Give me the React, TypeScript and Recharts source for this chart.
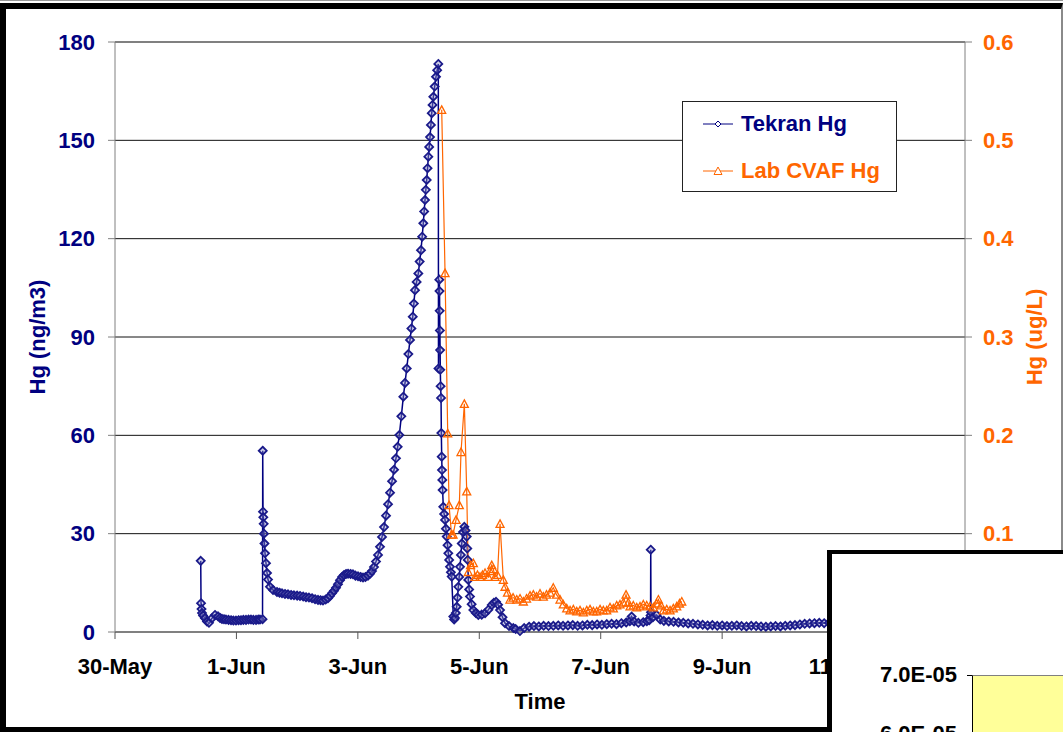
import React from 'react';
import { LineChart, Line, XAxis, YAxis, CartesianGrid, ReferenceLine } from 'recharts';

const FONT = '"Liberation Sans", Arial, sans-serif';
const NAVY = '#000080';
const ORANGE = '#FF6600';

// x axis: days counted from 30-May 00:00 (axis runs to 13-Jun, under the other window)
const dateTicks = [0, 2, 4, 6, 8, 10, 12];
const dateLabels = ['30-May', '1-Jun', '3-Jun', '5-Jun', '7-Jun', '9-Jun', '11-Jun'];
const leftTicks = [0, 30, 60, 90, 120, 150, 180];
const rightTicks = [0, 0.1, 0.2, 0.3, 0.4, 0.5, 0.6];
const overlayTicks = ['7.0E-05', '6.0E-05'];

const tekranDay = [
  1.412, 1.417, 1.425, 1.433, 1.450, 1.482, 1.515, 1.548, 1.598, 1.647, 1.697, 1.730, 1.762, 1.795, 1.828,
  1.870, 1.911, 1.950, 1.993, 2.035, 2.075, 2.115, 2.158, 2.200, 2.240, 2.280, 2.323, 2.360, 2.388, 2.430,
  2.433, 2.438, 2.443, 2.449, 2.454, 2.462, 2.471, 2.487, 2.504, 2.520, 2.553, 2.603, 2.668, 2.710, 2.751,
  2.800, 2.850, 2.900, 2.948, 3.000, 3.047, 3.100, 3.146, 3.195, 3.245, 3.295, 3.344, 3.385, 3.426, 3.470,
  3.508, 3.540, 3.574, 3.607, 3.640, 3.673, 3.706, 3.740, 3.772, 3.805, 3.838, 3.880, 3.920, 3.960, 4.003,
  4.045, 4.085, 4.125, 4.167, 4.200, 4.233, 4.266, 4.299, 4.332, 4.365, 4.398, 4.431, 4.464, 4.497, 4.530,
  4.563, 4.596, 4.628, 4.656, 4.683, 4.716, 4.749, 4.777, 4.805, 4.832, 4.859, 4.882, 4.904, 4.923, 4.941,
  4.968, 4.996, 5.018, 5.040, 5.059, 5.078, 5.092, 5.106, 5.120, 5.134, 5.148, 5.161, 5.175, 5.189, 5.203,
  5.217, 5.230, 5.243, 5.265, 5.287, 5.306, 5.325,
  5.328, 5.342, 5.345, 5.348, 5.351, 5.355, 5.358, 5.363, 5.370, 5.375, 5.381, 5.386, 5.391, 5.396, 5.407,
  5.421, 5.436, 5.450, 5.464, 5.477, 5.490, 5.504, 5.518, 5.532, 5.546, 5.572, 5.586, 5.600, 5.614, 5.628,
  5.641, 5.655, 5.669, 5.683, 5.697, 5.711, 5.732, 5.754, 5.774, 5.793, 5.802, 5.810, 5.819, 5.833, 5.847,
  5.874, 5.902, 5.943, 5.984, 6.040, 6.095, 6.150, 6.205, 6.240, 6.276, 6.310, 6.342, 6.383, 6.424, 6.490,
  6.561, 6.600, 6.670, 6.740, 6.820, 6.900, 6.980, 7.060, 7.140, 7.220, 7.300, 7.380, 7.460, 7.540, 7.620,
  7.700, 7.780, 7.860, 7.940, 8.020, 8.100, 8.180, 8.260, 8.340, 8.420, 8.480, 8.510, 8.550, 8.620, 8.700,
  8.760, 8.800, 8.821, 8.824, 8.828, 8.860, 8.920, 8.980, 9.040, 9.120, 9.200, 9.280, 9.360, 9.440, 9.520,
  9.600, 9.680, 9.760, 9.840, 9.920, 10.000, 10.080, 10.160, 10.240, 10.320, 10.400, 10.480, 10.560, 10.640,
  10.720, 10.800, 10.880, 10.960, 11.040, 11.120, 11.200, 11.280, 11.360, 11.440, 11.520, 11.600, 11.680,
  11.760, 11.840, 11.920, 12.000,
];
const tekranHg = [
  21.7, 8.8, 7.0, 5.8, 5.0, 4.2, 3.2, 2.8, 4.2, 5.2, 4.8, 4.3, 4.0, 3.9, 3.8,
  3.7, 3.6, 3.5, 3.5, 3.6, 3.6, 3.7, 3.7, 3.8, 3.8, 3.7, 3.7, 3.8, 3.8, 3.9,
  55.3, 36.7, 35.0, 33.0, 30.0, 27.0, 24.0, 21.0, 18.0, 16.0, 13.8, 12.8, 12.2, 12.0, 11.8,
  11.6, 11.5, 11.3, 11.2, 11.1, 11.0, 10.8, 10.6, 10.5, 10.3, 10.0, 9.8, 9.7, 9.6, 9.9,
  10.3, 11.0, 11.8, 12.6, 13.5, 14.6, 15.8, 16.8, 17.4, 17.7, 17.8, 17.7, 17.6, 17.2, 17.0,
  16.8, 16.6, 16.8, 17.2, 17.8, 18.6, 19.8, 21.5, 23.5, 26.0, 29.0, 32.0, 35.5, 39.0, 42.5,
  46.0, 49.5, 53.0, 56.5, 60.1, 65.8, 71.8, 76.0, 80.4, 84.8, 89.1, 92.6, 96.2, 100.2, 104.3,
  106.8, 109.4, 113.0, 116.5, 120.6, 124.7, 128.3, 131.8, 134.9, 137.9, 141.5, 145.0, 148.0, 151.0, 154.7,
  158.3, 160.8, 163.3, 166.4, 169.4, 171.4, 173.3,
  80.4, 107.5, 104.0, 98.0, 92.0, 86.0, 80.0, 75.0, 71.4, 60.7, 53.5, 49.4, 46.4, 43.3, 38.2,
  36.0, 34.2, 31.5, 29.1, 26.5, 24.0, 22.0, 19.9, 18.2, 16.9, 4.7, 3.8, 4.3, 5.8, 7.7,
  10.5, 13.8, 16.8, 19.9, 23.5, 27.0, 30.5, 32.1, 31.0, 29.1, 25.5, 22.0, 15.9, 13.0, 10.8,
  8.5, 6.7, 5.8, 5.2, 5.3, 5.7, 6.8, 8.2, 8.9, 9.2, 8.3, 6.7, 4.5, 2.7, 1.8,
  1.2, 0.9, 0.3, 1.2, 1.6, 1.8, 1.7, 1.9, 1.8, 1.9, 2.0, 1.9, 2.0, 2.1, 1.9,
  2.0, 2.2, 2.1, 2.3, 2.2, 2.4, 2.5, 2.4, 2.7, 2.9, 3.3, 4.7, 3.2, 2.8, 3.0,
  3.3, 3.6, 5.0, 25.1, 6.0, 4.5, 5.2, 3.8, 3.4, 3.2, 3.1, 2.9, 2.8, 2.6, 2.5,
  2.3, 2.2, 2.0, 2.1, 1.9, 2.0, 1.8, 1.9, 2.0, 1.8, 1.7, 1.9, 1.8, 1.7,
  1.6, 1.7, 1.8, 1.7, 1.9, 2.0, 2.1, 2.3, 2.5, 2.6, 2.7, 2.8, 2.7,
  2.8, 2.6, 2.7, 2.6,
];

const cvafDay = [
  5.381, 5.436, 5.480, 5.502, 5.543, 5.568, 5.617, 5.671, 5.699, 5.754, 5.793, 5.819, 5.856, 5.902, 5.930,
  5.971, 6.012, 6.053, 6.095, 6.149, 6.177, 6.205, 6.231, 6.259, 6.300, 6.342, 6.396, 6.424, 6.465, 6.506,
  6.556, 6.617, 6.671, 6.726, 6.778, 6.836, 6.890, 6.943, 7.000, 7.055, 7.107, 7.165, 7.219, 7.272, 7.330,
  7.384, 7.440, 7.495, 7.549, 7.605, 7.659, 7.714, 7.770, 7.824, 7.879, 7.934, 7.989, 8.043, 8.099, 8.153,
  8.208, 8.264, 8.318, 8.373, 8.417, 8.455, 8.483, 8.537, 8.593, 8.648, 8.702, 8.758, 8.812, 8.867, 8.920,
  8.950, 8.994, 9.032, 9.087, 9.142, 9.196, 9.252, 9.298, 9.335,
];
const cvafHg = [
  0.531, 0.365, 0.202, 0.129, 0.099, 0.099, 0.114, 0.129, 0.183, 0.232, 0.143, 0.061, 0.068, 0.070, 0.056,
  0.058, 0.056, 0.058, 0.060, 0.056, 0.062, 0.068, 0.064, 0.056, 0.058, 0.110, 0.053, 0.046, 0.040, 0.033,
  0.035, 0.033, 0.034, 0.031, 0.034, 0.037, 0.038, 0.036, 0.039, 0.036, 0.038, 0.040, 0.045, 0.038, 0.033,
  0.028, 0.024, 0.022, 0.023, 0.021, 0.022, 0.020, 0.022, 0.023, 0.021, 0.021, 0.023, 0.022, 0.022, 0.025,
  0.024, 0.027, 0.028, 0.030, 0.038, 0.030, 0.026, 0.027, 0.025, 0.026, 0.028, 0.027, 0.026, 0.025, 0.029,
  0.033, 0.027, 0.022, 0.023, 0.022, 0.024, 0.026, 0.029, 0.031,
];

const tekran = tekranDay.map((day, i) => ({ day, hg: tekranHg[i] }));
const cvaf = cvafDay.map((day, i) => ({ day, hg: cvafHg[i] }));

function diamondPath(cx: number, cy: number, r = 4) {
  return `M${cx},${cy - r}L${cx + r},${cy}L${cx},${cy + r}L${cx - r},${cy}Z`;
}
function trianglePath(cx: number, cy: number) {
  return `M${cx},${cy - 4}L${cx + 4},${cy + 3.5}L${cx - 4},${cy + 3.5}Z`;
}

function DiamondDot(props: any) {
  const { cx, cy } = props;
  if (cx == null || cy == null) return <g />;
  return <path d={diamondPath(cx, cy)} fill="#8c8cc6" fillOpacity={0.4} stroke="#1a1a8a" strokeWidth={1.8} />;
}
function TriangleDot(props: any) {
  const { cx, cy } = props;
  if (cx == null || cy == null) return <g />;
  return <path d={trianglePath(cx, cy)} fill="none" stroke={ORANGE} strokeWidth={1.3} />;
}

const series = [
  { name: 'Tekran Hg', color: NAVY, marker: 'diamond' },
  { name: 'Lab CVAF Hg', color: ORANGE, marker: 'triangle' },
];

const boldText = { fontFamily: FONT, fontWeight: 700, fontSize: 22, lineHeight: 1, whiteSpace: 'nowrap' as const };

function ChartLegend() {
  return (
    <div style={{ position: 'absolute', left: 682, top: 101, width: 213, height: 89, border: '1.5px solid #222', background: '#fff' }}>
      {series.map((s, i) => (
        <div key={s.name} style={{ position: 'absolute', left: 20, top: 11 + i * 47, height: 22, display: 'flex', alignItems: 'center' }}>
          <svg width={30} height={12} style={{ marginRight: 8 }}>
            <line x1={0} y1={6} x2={30} y2={6} stroke={s.color} strokeWidth={1} />
            {s.marker === 'diamond' ? (
              <path d={diamondPath(15, 6, 3)} fill="#fff" stroke={s.color} />
            ) : (
              <path d={trianglePath(15, 6)} fill="#fff" stroke={s.color} />
            )}
          </svg>
          <span style={{ ...boldText, color: s.color }}>{s.name}</span>
        </div>
      ))}
    </div>
  );
}

export default function App() {
  return (
    <div style={{ position: 'fixed', left: 0, top: 0, width: 1063, height: 732, overflow: 'hidden', background: '#fff' }}>
      <div style={{ position: 'absolute', left: 0, top: 0, width: 1063, height: 1, background: '#9a9a9a' }} />
      <div style={{ position: 'absolute', left: 0, top: 3, width: 1055, height: 718, borderTop: '6px solid #000', borderLeft: '6px solid #000', borderBottom: '5px solid #000', borderRight: '2px solid #8a8a8a' }} />

      <div style={{ position: 'absolute', left: 0, top: 0 }}>
        <LineChart width={1063} height={732} margin={{ top: 42, right: 0, bottom: 0, left: 0 }}>
          <CartesianGrid yAxisId="left" vertical={false} stroke="#111" strokeWidth={1} />
          <XAxis
            type="number"
            dataKey="day"
            domain={[0, 14]}
            ticks={dateTicks}
            tickFormatter={(v: number) => dateLabels[dateTicks.indexOf(v)] ?? ''}
            height={100}
            tickSize={7}
            tickMargin={19}
            interval={0}
            axisLine={{ stroke: '#808080', strokeWidth: 2 }}
            tickLine={{ stroke: '#555' }}
            tick={{ fill: '#000', fontSize: 22, fontWeight: 700, fontFamily: FONT }}
          />
          <YAxis
            yAxisId="left"
            domain={[0, 180]}
            ticks={leftTicks}
            width={115}
            tickSize={7}
            tickMargin={13}
            interval={0}
            axisLine={{ stroke: '#808080' }}
            tickLine={{ stroke: '#808080' }}
            tick={{ fill: NAVY, fontSize: 22, fontWeight: 700, fontFamily: FONT }}
          />
          <YAxis
            yAxisId="right"
            orientation="right"
            domain={[0, 0.6]}
            ticks={rightTicks}
            width={98}
            tickSize={7}
            tickMargin={11}
            interval={0}
            tickFormatter={(v: number) => (v === 0 ? '0' : v.toFixed(1))}
            axisLine={{ stroke: '#808080' }}
            tickLine={{ stroke: '#808080' }}
            tick={{ fill: ORANGE, fontSize: 22, fontWeight: 700, fontFamily: FONT }}
          />
          <ReferenceLine yAxisId="left" y={180} stroke="#808080" strokeWidth={2} />
          <Line
            yAxisId="left"
            data={tekran}
            dataKey="hg"
            name="Tekran Hg"
            stroke={NAVY}
            strokeWidth={1.5}
            dot={(p: any) => <DiamondDot key={`t${p.index}`} cx={p.cx} cy={p.cy} />}
            activeDot={false}
            isAnimationActive={false}
          />
          <Line
            yAxisId="right"
            data={cvaf}
            dataKey="hg"
            name="Lab CVAF Hg"
            stroke={ORANGE}
            strokeWidth={1.2}
            dot={(p: any) => <TriangleDot key={`c${p.index}`} cx={p.cx} cy={p.cy} />}
            activeDot={false}
            isAnimationActive={false}
          />
        </LineChart>
      </div>

      <div style={{ ...boldText, position: 'absolute', left: 38, top: 337, color: NAVY, transform: 'translate(-50%, -50%) rotate(-90deg)' }}>Hg (ng/m3)</div>
      <div style={{ ...boldText, position: 'absolute', left: 1035, top: 337, color: ORANGE, transform: 'translate(-50%, -50%) rotate(-90deg)' }}>Hg (ug/L)</div>
      <div style={{ ...boldText, position: 'absolute', left: 540, top: 702, color: '#000', transform: 'translate(-50%, -50%)' }}>Time</div>

      <ChartLegend />

      {/* another chart window lying over the lower right corner */}
      <div style={{ position: 'absolute', left: 827, top: 550, width: 400, height: 300, borderLeft: '5px solid #000', borderTop: '4px solid #000', background: '#fff' }}>
        {overlayTicks.map((t, i) => (
          <React.Fragment key={t}>
            <div style={{ ...boldText, position: 'absolute', left: 0, width: 125, top: 110 + i * 59, textAlign: 'right', color: '#000' }}>{t}</div>
            <div style={{ position: 'absolute', left: 135, top: 121 + i * 59, width: 6, height: 1, background: '#000' }} />
          </React.Fragment>
        ))}
        <div style={{ position: 'absolute', left: 140, top: 121, width: 300, height: 200, background: '#FFFF99', borderTop: '1px solid #808080', borderLeft: '1px solid #000' }} />
      </div>
    </div>
  );
}
